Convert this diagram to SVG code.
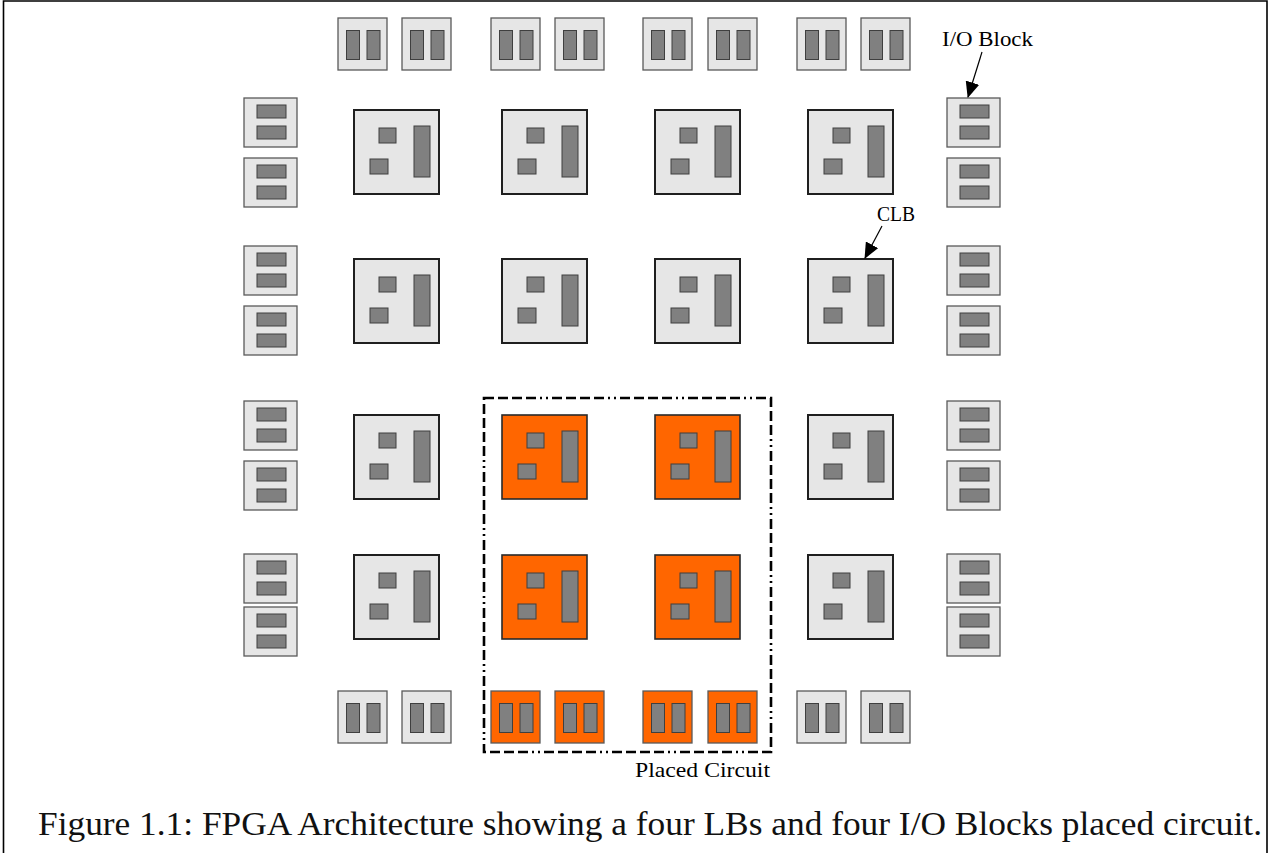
<svg xmlns="http://www.w3.org/2000/svg" xmlns:xlink="http://www.w3.org/1999/xlink" width="1270" height="853" viewBox="0 0 1270 853">
<style>
.bg{fill:#ffffff}
.clb{fill:#e6e6e6;stroke:#1f1f1f;stroke-width:2}
.clbO{fill:#ff6600;stroke:#2a2a2a;stroke-width:1.6}
.io{fill:#e6e6e6;stroke:#5a5a5a;stroke-width:1.3}
.ioO{fill:#ff6600;stroke:#5a5a5a;stroke-width:1.3}
.part{fill:#808080;stroke:#3f3f3f;stroke-width:1}
.frame{fill:none;stroke:#000;stroke-width:1.6}
.region{fill:none;stroke:#000;stroke-width:2.6;stroke-dasharray:10 4 10 4 10 4 10 4 2 4 2 4}
.lbl{font-family:"Liberation Serif","Times New Roman",serif;font-size:22px;fill:#000}
.cap{font-family:"Liberation Serif","Times New Roman",serif;font-size:33px;fill:#111}
.arr{stroke:#000;stroke-width:1.2;fill:none}
</style>
<defs>
<marker id="ah" markerWidth="16" markerHeight="14" refX="15" refY="7" orient="auto" markerUnits="userSpaceOnUse">
<path d="M0,0 L16,7 L0,14 Z" fill="#000"/>
</marker>
<g id="clbT">
<rect class="clb" x="0" y="0" width="85" height="84"/>
<rect class="part" x="25" y="18" width="17" height="15"/>
<rect class="part" x="16" y="49" width="18" height="15"/>
<rect class="part" x="60" y="16" width="16" height="51"/>
</g>
<g id="clbOT">
<rect class="clbO" x="0" y="0" width="85" height="84"/>
<rect class="part" x="25" y="18" width="17" height="15"/>
<rect class="part" x="16" y="49" width="18" height="15"/>
<rect class="part" x="60" y="16" width="16" height="51"/>
</g>
<g id="iovT">
<rect class="io" x="0" y="0" width="49" height="52"/>
<rect class="part" x="8.5" y="12.5" width="13" height="29"/>
<rect class="part" x="29" y="12.5" width="13" height="29"/>
</g>
<g id="iovOT">
<rect class="ioO" x="0" y="0" width="49" height="52"/>
<rect class="part" x="8.5" y="12.5" width="13" height="29"/>
<rect class="part" x="29" y="12.5" width="13" height="29"/>
</g>
<g id="iohT">
<rect class="io" x="0" y="0" width="53" height="49"/>
<rect class="part" x="13" y="7" width="29" height="13"/>
<rect class="part" x="13" y="28" width="29" height="13"/>
</g>
</defs>
<rect class="bg" x="0" y="0" width="1270" height="853"/>
<path class="frame" d="M3.5,853 L3.5,1 L1267,1 L1267,853"/>

<!-- CLBs -->
<g id="clb-r1c1"><use xlink:href="#clbT" x="354" y="110"/></g>
<g id="clb-r1c2"><use xlink:href="#clbT" x="502" y="110"/></g>
<g id="clb-r1c3"><use xlink:href="#clbT" x="655" y="110"/></g>
<g id="clb-r1c4"><use xlink:href="#clbT" x="808" y="110"/></g>
<g id="clb-r2c1"><use xlink:href="#clbT" x="354" y="259"/></g>
<g id="clb-r2c2"><use xlink:href="#clbT" x="502" y="259"/></g>
<g id="clb-r2c3"><use xlink:href="#clbT" x="655" y="259"/></g>
<g id="clb-r2c4"><use xlink:href="#clbT" x="808" y="259"/></g>
<g id="clb-r3c1"><use xlink:href="#clbT" x="354" y="415"/></g>
<g id="clb-r3c2"><use xlink:href="#clbOT" x="502" y="415"/></g>
<g id="clb-r3c3"><use xlink:href="#clbOT" x="655" y="415"/></g>
<g id="clb-r3c4"><use xlink:href="#clbT" x="808" y="415"/></g>
<g id="clb-r4c1"><use xlink:href="#clbT" x="354" y="555"/></g>
<g id="clb-r4c2"><use xlink:href="#clbOT" x="502" y="555"/></g>
<g id="clb-r4c3"><use xlink:href="#clbOT" x="655" y="555"/></g>
<g id="clb-r4c4"><use xlink:href="#clbT" x="808" y="555"/></g>

<!-- Top I/O -->
<g id="io-t1"><use xlink:href="#iovT" x="338" y="18"/></g>
<g id="io-t2"><use xlink:href="#iovT" x="402" y="18"/></g>
<g id="io-t3"><use xlink:href="#iovT" x="491" y="18"/></g>
<g id="io-t4"><use xlink:href="#iovT" x="555" y="18"/></g>
<g id="io-t5"><use xlink:href="#iovT" x="643" y="18"/></g>
<g id="io-t6"><use xlink:href="#iovT" x="708" y="18"/></g>
<g id="io-t7"><use xlink:href="#iovT" x="797" y="18"/></g>
<g id="io-t8"><use xlink:href="#iovT" x="861" y="18"/></g>

<!-- Bottom I/O -->
<g id="io-b1"><use xlink:href="#iovT" x="338" y="691"/></g>
<g id="io-b2"><use xlink:href="#iovT" x="402" y="691"/></g>
<g id="io-b3"><use xlink:href="#iovOT" x="491" y="691"/></g>
<g id="io-b4"><use xlink:href="#iovOT" x="555" y="691"/></g>
<g id="io-b5"><use xlink:href="#iovOT" x="643" y="691"/></g>
<g id="io-b6"><use xlink:href="#iovOT" x="708" y="691"/></g>
<g id="io-b7"><use xlink:href="#iovT" x="797" y="691"/></g>
<g id="io-b8"><use xlink:href="#iovT" x="861" y="691"/></g>

<!-- Left I/O -->
<g id="io-l1"><use xlink:href="#iohT" x="244" y="98"/></g>
<g id="io-l2"><use xlink:href="#iohT" x="244" y="158"/></g>
<g id="io-l3"><use xlink:href="#iohT" x="244" y="246"/></g>
<g id="io-l4"><use xlink:href="#iohT" x="244" y="306"/></g>
<g id="io-l5"><use xlink:href="#iohT" x="244" y="401"/></g>
<g id="io-l6"><use xlink:href="#iohT" x="244" y="461"/></g>
<g id="io-l7"><use xlink:href="#iohT" x="244" y="554"/></g>
<g id="io-l8"><use xlink:href="#iohT" x="244" y="607"/></g>

<!-- Right I/O -->
<g id="io-r1"><use xlink:href="#iohT" x="947" y="98"/></g>
<g id="io-r2"><use xlink:href="#iohT" x="947" y="158"/></g>
<g id="io-r3"><use xlink:href="#iohT" x="947" y="246"/></g>
<g id="io-r4"><use xlink:href="#iohT" x="947" y="306"/></g>
<g id="io-r5"><use xlink:href="#iohT" x="947" y="401"/></g>
<g id="io-r6"><use xlink:href="#iohT" x="947" y="461"/></g>
<g id="io-r7"><use xlink:href="#iohT" x="947" y="554"/></g>
<g id="io-r8"><use xlink:href="#iohT" x="947" y="607"/></g>

<!-- Placed circuit region -->
<g id="placed-circuit">
<rect class="region" x="484" y="398" width="287" height="354"/>
<text class="lbl" x="635" y="777" textLength="135" lengthAdjust="spacingAndGlyphs">Placed Circuit</text>
</g>

<!-- Labels -->
<g id="label-io">
<text class="lbl" x="942" y="46" textLength="91" lengthAdjust="spacingAndGlyphs">I/O Block</text>
</g>
<g id="label-clb">
<text class="lbl" x="877" y="221" textLength="38" lengthAdjust="spacingAndGlyphs">CLB</text>
</g>

<!-- Connectors -->
<g id="connectors">
<line class="arr" x1="982" y1="52" x2="968" y2="97" marker-end="url(#ah)"/>
<line class="arr" x1="882" y1="226" x2="865" y2="258" marker-end="url(#ah)"/>
</g>

<g id="caption">
<text class="cap" x="38" y="835" textLength="1224" lengthAdjust="spacingAndGlyphs">Figure 1.1: FPGA Architecture showing a four LBs and four I/O Blocks placed circuit.</text>
</g>
</svg>
